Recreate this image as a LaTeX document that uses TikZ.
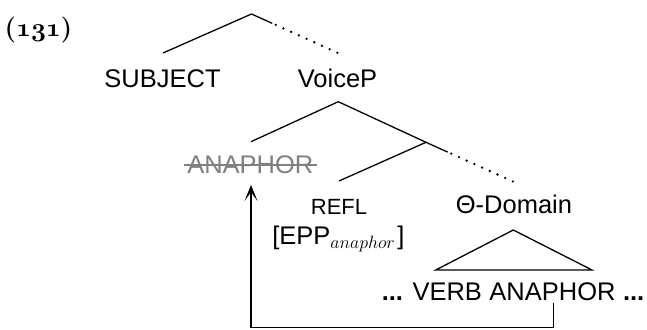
\documentclass[tikz,border=0pt]{standalone}
\usepackage{fix-cm}
\usepackage{fontspec}
\setsansfont{Liberation Sans}
\usetikzlibrary{calc,arrows.meta}
\newcommand{\exnum}[1]{{\usefont{OML}{cmm}{b}{it}#1}}
\begin{document}
\begin{tikzpicture}[x=1pt,y=-1pt,
  lbl/.style={font=\sffamily\fontsize{25.5}{30}\selectfont, inner sep=0pt, anchor=base},
  smalllbl/.style={font=\sffamily\fontsize{22}{26}\selectfont, inner sep=0pt, anchor=base},
  branch/.style={line width=1.3pt},
  dotline/.style={line width=2.6pt, line cap=round, dash pattern=on 0pt off 8.45pt},
  arr/.style={line width=1.3pt, -{Stealth[length=16pt,width=13pt,inset=9pt]}}]
\useasboundingbox (0,0) rectangle (647,329);

% example number
\node[anchor=base west, inner sep=0pt, font=\fontsize{26}{30}\selectfont\bfseries] (ex) at (4.5,36.5)
  {(\exnum{131})};

% top level
\coordinate (root) at (251.5,14);
\node[lbl] (subj) at (162.5,87) {SUBJECT};
\node[lbl] (voicep) at (337.5,87) {VoiceP};
\coordinate (subjT) at ($(subj.base)+(0.5,-34)$);
\coordinate (vpT) at ($(voicep.base)+(0.5,-34)$);
\draw[branch] (root) -- (subjT);
\draw[branch] (root) -- ($(root)!0.24!(vpT)$);
\draw[dotline] ($(root)!0.28!(vpT)$) -- (vpT);

% VoiceP subtree
\coordinate (vp) at ($(voicep.base)+(0.8,14.7)$);
\node[lbl, text=gray] (ana1) at (250.3,173) {ANAPHOR};
\draw[gray, line width=1.7pt] ($(ana1.base west)+(-3.5,-8)$) -- ($(ana1.base east)+(3.5,-8)$);
\coordinate (anaT) at ($(ana1.base)+(0.7,-31.3)$);
\coordinate (bar) at (426,142.3);
\draw[branch] (vp) -- (anaT);
\draw[branch] (vp) -- (bar);

\node[smalllbl] (refl) at (339,214) {REFL};
\node[lbl] (theta) at (514,213.3) {Θ-Domain};
\coordinate (reflT) at ($(refl.base)+(0,-33)$);
\coordinate (thT) at ($(theta.base)+(-1,-31.8)$);
\draw[branch] (bar) -- (reflT);
\draw[branch] (bar) -- ($(bar)!0.25!(thT)$);
\draw[dotline] ($(bar)!0.29!(thT)$) -- (thT);

\node[lbl] (epp) at (338.4,244.5) {[EPP$_{anaphor}$\kern2pt]};

% triangle
\coordinate (triA) at ($(theta.base)+(-0.7,16.7)$);
\coordinate (triL) at (435.7,270);
\coordinate (triR) at (592,270);
\draw[branch, line join=miter] (triA) -- (triL) -- (triR) -- cycle;

% bottom string
\node[lbl] (ana2) at (552.5,300) {ANAPHOR};
\node[lbl, anchor=base east] (verb) at ($(ana2.base west)+(-7.1,0)$) {\textbf{...} VERB};
\node[lbl, anchor=base west] (edots) at ($(ana2.base east)+(7.1,0)$) {\textbf{...}};

% movement arrow
\draw[arr] ($(ana2.base)+(0.8,2.7)$) -- ++(0,24.6) -| ($(ana1.base)+(0.7,12)$);
\end{tikzpicture}
\end{document}
